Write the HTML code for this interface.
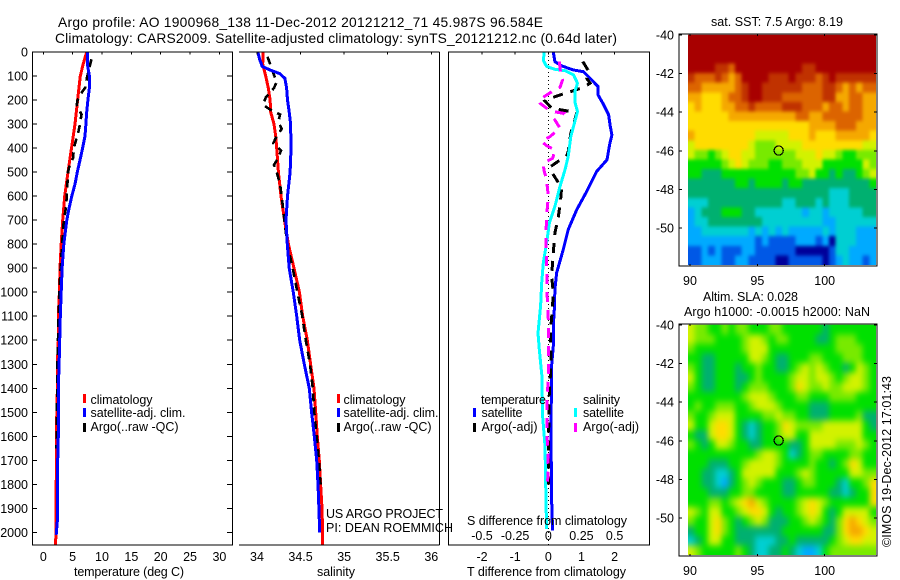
<!DOCTYPE html>
<html lang="en">
<head>
<meta charset="utf-8">
<title>Argo profile</title>
<style>
html,body{margin:0;padding:0;background:#fff;}
svg{display:block;}
text{font-family:"Liberation Sans",sans-serif;font-size:12.5px;fill:#000;}
.t{font-size:13.8px;}
</style>
</head>
<body>
<svg id="chart" xmlns="http://www.w3.org/2000/svg" width="900" height="580" viewBox="0 0 900 580" shape-rendering="crispEdges">
<defs>
<filter id="softSst" filterUnits="userSpaceOnUse" x="668" y="14" width="228" height="272" color-interpolation-filters="sRGB">
<feGaussianBlur stdDeviation="1.6 1.9"/>
<feComponentTransfer><feFuncA type="linear" slope="4" intercept="0"/></feComponentTransfer>
</filter>
<filter id="softSla" filterUnits="userSpaceOnUse" x="668" y="304" width="228" height="272" color-interpolation-filters="sRGB">
<feGaussianBlur stdDeviation="3 3.4"/>
<feComponentTransfer><feFuncA type="linear" slope="4" intercept="0"/></feComponentTransfer>
</filter>
<clipPath id="clipSst"><rect x="688" y="34.7" width="188" height="230.3"/></clipPath>
<clipPath id="clipSla"><rect x="688" y="324.7" width="188" height="230.3"/></clipPath>
</defs>
<rect x="0" y="0" width="900" height="580" fill="#fff"/>
<g id="layer"></g>
<g>
<text class="t" x="58" y="27" textLength="485">Argo profile: AO 1900968_138 11-Dec-2012 20121212_71 45.987S 96.584E</text>
<text class="t" x="55" y="43" textLength="562">Climatology: CARS2009. Satellite-adjusted climatology: synTS_20121212.nc (0.64d later)</text>
<text x="711" y="26" textLength="132">sat. SST: 7.5 Argo: 8.19</text>
<text x="703" y="301" textLength="95">Altim. SLA: 0.028</text>
<text x="684" y="316" textLength="186">Argo h1000: -0.0015 h2000: NaN</text>
<text transform="translate(891 547) rotate(-90)" x="0" y="0" textLength="171">©IMOS 19-Dec-2012 17:01:43</text>
</g>
<g>
<text x="74" y="576" textLength="110">temperature (deg C)</text>
<text x="317" y="576" textLength="38">salinity</text>
<text x="467" y="576" textLength="159">T difference from climatology</text>
<text x="467" y="525" textLength="160">S difference from climatology</text>
</g>
<g>
<rect x="83" y="394" width="3" height="9" fill="#f00"/>
<rect x="83" y="408" width="3" height="9" fill="#00f"/>
<rect x="83" y="423" width="3" height="9" fill="#000"/>
<text x="90.5" y="404" textLength="62">climatology</text>
<text x="90.5" y="417" textLength="95">satellite-adj. clim.</text>
<text x="90.5" y="431" textLength="88">Argo(..raw -QC)</text>
</g>
<g>
<rect x="337" y="394" width="3" height="9" fill="#f00"/>
<rect x="337" y="408" width="3" height="9" fill="#00f"/>
<rect x="337" y="423" width="3" height="9" fill="#000"/>
<text x="343.5" y="404" textLength="62">climatology</text>
<text x="343.5" y="417" textLength="95">satellite-adj. clim.</text>
<text x="343.5" y="431" textLength="88">Argo(..raw -QC)</text>
</g>
<g>
<text x="481" y="404" textLength="65">temperature</text>
<text x="583" y="404" textLength="37">salinity</text>
<rect x="473" y="408" width="3" height="9" fill="#00f"/>
<rect x="473" y="423" width="3" height="9" fill="#000"/>
<rect x="574" y="408" width="3" height="9" fill="#0ff"/>
<rect x="574" y="423" width="3" height="9" fill="#f0f"/>
<text x="481.5" y="417" textLength="41">satellite</text>
<text x="481.5" y="431" textLength="56">Argo(-adj)</text>
<text x="583" y="417" textLength="41">satellite</text>
<text x="583" y="431" textLength="56">Argo(-adj)</text>
</g>
<g>
<text x="326" y="518" textLength="117">US ARGO PROJECT</text>
<text x="326" y="532" textLength="127">PI: DEAN ROEMMICH</text>
</g>
</svg>
<script>
// ---- shared axis data ----
const depthTicks = [0,100,200,300,400,500,600,700,800,900,1000,1100,1200,1300,1400,1500,1600,1700,1800,1900,2000];
const tempTicks = [0,5,10,15,20,25,30];
const salTicks = [34,34.5,35,35.5,36];
const salTickLabels = ['34','34.5','35','35.5','36'];
const tDiffTicks = [-2,-1,0,1,2];
const sDiffTicks = [-0.5,-0.25,0,0.25,0.5];
const latTicks = [-40,-42,-44,-46,-48,-50];
const lonTicks = [90,95,100];
const argoLon = [96.584];
const argoLat = [-45.987];

// ---- temperature panel ----
const tempClimDepth = [0,50,100,200,300,400,500,600,700,800,900,1000,1100,1200,1300,1400,1500,1600,1700,1800,1900,2000,2055];
const tempClimValues = [7.4,6.8,6.3,5.85,5.4,4.8,4.2,3.65,3.3,3.05,2.85,2.75,2.55,2.55,2.4,2.4,2.3,2.25,2.25,2.2,2.15,2.15,2.1];
const tempSatDepth = [0,50,100,150,200,250,300,350,400,450,500,550,600,650,700,800,900,1000,1100,1200,1300,1400,1500,1600,1700,1800,1900,1950,2010];
const tempSatValues = [7.5,7.5,7.85,7.85,7.6,7.4,7.25,7.1,6.7,6.25,5.8,5.4,4.85,4.4,4.0,3.5,3.2,3.05,2.9,2.8,2.7,2.55,2.55,2.55,2.45,2.45,2.4,2.4,2.2];
const tempArgoDepth = [30,50,100,150,170,200,220,260,300,330,400,440,480,500,600,650,700,800,900,1000,1100,1300,1550,1650];
const tempArgoValues = [8.2,8.0,7.5,7.1,6.5,5.85,5.7,6.5,6.25,6.0,5.2,5.1,4.4,4.2,4.0,3.85,3.5,3.2,2.95,2.75,2.6,2.4,2.3,2.25];

// ---- salinity panel ----
const salClimDepth = [0,50,100,150,200,250,300,350,400,500,600,700,800,900,1000,1100,1200,1300,1400,1500,1600,1700,1800,1900,2000,2055];
const salClimValues = [34.07,34.065,34.1,34.13,34.15,34.157,34.195,34.214,34.226,34.245,34.275,34.315,34.36,34.425,34.486,34.524,34.577,34.615,34.654,34.673,34.692,34.715,34.73,34.746,34.753,34.753];
const salSatDepth = [0,30,60,75,90,110,150,200,250,300,400,450,500,600,700,800,900,1000,1100,1200,1300,1400,1500,1600,1700,1800,1900,2000];
const salSatValues = [34.01,34.03,34.06,34.15,34.26,34.32,34.34,34.35,34.37,34.386,34.39,34.386,34.38,34.35,34.333,34.348,34.37,34.417,34.455,34.49,34.543,34.6,34.627,34.658,34.685,34.7,34.71,34.72];
const salArgoDepth = [20,50,100,125,150,190,220,240,260,290,320,350,380,410,440,470,500,550,600,700,800,900,1000,1100,1200,1300,1400,1500,1600,1700,1800];
const salArgoValues = [34.12,34.15,34.2,34.225,34.195,34.1,34.07,34.15,34.264,34.245,34.283,34.225,34.187,34.275,34.245,34.195,34.226,34.264,34.283,34.314,34.348,34.41,34.463,34.52,34.56,34.608,34.64,34.658,34.685,34.71,34.73];

// ---- difference panel ----
const dTSatDepth = [0,40,58,75,82,116,144,178,220,261,310,345,386,449,497,580,656,740,823,920,989,1072,1139,1224,1307,1585,1862,1993];
const dTSatValues = [0.15,0.2,0.4,0.76,1.06,1.31,1.5,1.5,1.67,1.82,1.87,1.92,1.85,1.77,1.46,1.16,0.86,0.6,0.45,0.25,0.2,0.18,0.15,0.15,0.1,0.08,0.1,0.13];
const dSSatDepth = [0,35,60,72,78,95,130,165,206,248,310,352,435,490,560,643,712,795,878,961,1058,1170,1238,1349,1515,1640,1848,1986];
const dSSatValues = [-0.03,-0.038,-0.013,0.05,0.126,0.19,0.22,0.2,0.2,0.22,0.19,0.17,0.15,0.126,0.088,0.05,0.008,-0.013,-0.038,-0.05,-0.058,-0.078,-0.068,-0.048,-0.043,-0.025,-0.018,-0.013];
const dTArgoDepth = [40,78,110,130,147,168,186,204,234,245,252,283,338,414,435,455,476,504,532,566,615,691,753,836,933,1003,1072,1156,1300,1446,1640,1800];
const dTArgoValues = [1.04,1.21,1.16,1.26,1.06,0.6,0.2,-0.1,0.1,0.55,0.86,0.8,0.68,0.6,0.55,0.3,0.08,0.12,0.25,0.4,0.37,0.3,0.2,0.15,0.1,0.15,0.12,0.07,0.08,0.02,0.01,0];
const dSArgoDepth = [40,60,95,116,147,168,200,213,234,248,255,283,317,352,372,390,407,442,463,491,532,601,684,767,878,1017,1114,1307,1446,1515,1612,1723,1792];
const dSArgoValues = [0.083,0.088,0.093,0.108,0.088,0.018,-0.07,-0.063,-0.013,0.038,0.114,0.05,0.088,0.013,-0.05,-0.013,0.05,0.033,-0.038,-0.033,-0.013,0,-0.013,-0.018,-0.013,-0.008,0,0.003,-0.008,-0.008,-0.008,0,-0.005];

// ---- map grids: rows north to south, colour level per cell ----
const levelColors = ['#00009a','#0058e6','#00aaff','#00cfd2','#00b070','#00e000','#78ea00','#d2f200','#ffdc00','#f5a800','#dc6400','#c03200','#a80000'];
const sstGrid = [
[12,12,12,12,12,12,12,12,12,12,12,12,12,12,12,12,12,12,12,12,12,12,12,12,12,12,12,12],
[12,12,12,12,12,12,12,12,12,12,12,12,12,12,12,12,12,12,12,12,12,12,12,12,12,12,12,12],
[12,12,12,12,12,12,12,12,12,12,12,12,12,12,12,12,12,12,12,12,12,12,12,12,12,12,12,12],
[12,12,12,12,11,11,10,12,12,12,12,12,12,12,12,12,12,11,11,12,12,12,12,12,12,12,12,12],
[11,10,10,10,11,10,9,10,12,12,12,12,11,11,11,12,11,11,11,10,11,12,11,11,11,11,11,11],
[10,10,9,9,9,9,9,10,11,12,12,11,11,11,11,11,11,10,10,10,11,11,10,9,10,9,10,10],
[9,9,8,8,8,9,10,10,11,12,12,11,11,11,10,10,10,10,10,10,11,11,9,9,10,10,9,9],
[8,9,8,8,8,9,9,10,10,11,10,10,10,10,11,11,11,10,10,10,9,10,10,9,10,10,9,9],
[8,8,8,8,8,8,9,9,9,9,9,9,9,9,9,9,10,10,9,9,10,10,10,10,10,10,9,9],
[8,8,8,8,8,8,8,8,8,8,8,8,8,8,8,8,8,8,9,9,9,9,10,10,10,9,9,9],
[9,8,8,8,8,8,8,8,8,8,7,7,7,7,7,8,8,8,9,8,8,8,9,9,9,9,9,8],
[7,8,8,8,8,8,8,8,8,7,6,6,6,7,7,7,7,8,8,8,8,8,8,8,8,8,7,7],
[7,6,6,5,6,7,8,8,7,7,6,6,6,6,6,6,7,7,7,8,7,7,6,5,5,6,6,6],
[5,5,5,5,5,6,7,8,7,6,6,6,5,5,6,6,6,7,7,7,5,5,5,5,5,5,7,6],
[5,5,4,4,4,5,5,5,5,5,5,5,5,5,5,5,6,6,7,5,5,4,5,4,4,5,6,7],
[4,4,4,4,4,4,4,5,5,4,5,5,5,5,4,5,5,4,4,4,4,4,4,4,4,4,4,5],
[4,4,4,4,4,4,4,4,4,4,4,4,4,4,4,4,4,4,4,4,4,3,3,3,4,4,4,4],
[3,3,3,4,4,4,4,4,4,4,4,4,4,4,3,3,4,4,4,3,4,3,3,3,4,4,4,4],
[2,3,4,4,4,5,5,5,4,4,3,3,3,3,3,3,3,2,3,3,2,3,3,3,3,3,4,4],
[2,3,3,4,4,4,4,4,4,4,4,3,3,3,3,3,3,3,3,3,2,2,3,3,3,3,3,3],
[2,2,3,3,3,3,3,3,3,2,3,2,3,2,3,2,2,2,2,2,3,2,3,3,3,2,2,2],
[2,2,2,2,2,2,2,2,2,2,1,2,1,1,1,1,2,2,2,1,2,0,3,3,3,2,2,2],
[1,1,2,1,2,1,1,1,2,2,1,1,1,1,1,1,0,0,0,0,0,1,3,3,2,2,2,2],
[1,1,2,2,2,1,1,2,2,1,1,1,1,0,0,1,1,1,1,1,0,1,2,3,2,2,1,2]
];
const slaGrid = [
[7,6,6,5,5,6,5,6,6,5,5,5,6,6,5,5,5,5,5,5,4,5,5,5,5,5,5,5],
[7,6,6,6,5,5,5,5,6,7,7,6,5,6,6,5,5,5,5,4,4,5,6,6,6,5,5,5],
[6,5,5,5,5,5,5,5,6,7,7,7,5,5,5,5,5,5,5,5,5,5,6,6,6,6,5,5],
[5,5,4,4,5,5,5,5,5,7,7,6,5,4,4,5,5,5,6,6,5,5,5,6,6,6,5,5],
[6,5,4,4,5,5,5,4,5,5,6,5,5,4,4,5,6,7,6,7,6,5,5,4,5,7,6,5],
[7,5,4,4,5,5,5,4,4,5,6,5,5,5,5,6,7,7,6,7,7,6,5,6,7,7,6,5],
[6,5,4,4,5,5,5,4,5,6,6,6,5,5,5,6,8,7,6,6,7,6,6,7,7,7,6,5],
[5,5,5,5,5,5,5,5,6,7,7,7,6,5,5,5,6,6,5,5,5,6,6,6,6,5,5,5],
[5,6,5,5,6,6,6,5,5,6,7,7,7,6,5,5,5,5,4,4,4,5,5,5,5,5,5,5],
[6,5,5,6,7,7,7,5,5,5,5,6,6,7,6,6,5,5,4,4,4,5,5,5,5,6,4,4],
[7,5,5,7,8,8,7,5,4,3,4,5,5,6,8,7,6,6,6,6,7,7,7,7,7,7,5,4],
[5,4,4,7,8,8,7,5,4,3,4,5,5,6,7,7,5,5,7,7,7,7,7,7,7,7,5,5],
[6,5,4,5,7,7,6,5,5,4,4,5,5,5,5,4,4,5,7,7,7,7,6,6,6,7,6,5],
[5,5,5,5,5,5,5,5,5,5,6,7,7,6,5,3,4,5,6,6,5,5,5,5,6,6,5,5],
[5,5,5,4,4,4,5,5,6,7,7,7,7,6,5,5,5,5,6,5,5,4,5,6,8,7,5,5],
[5,5,4,4,3,3,4,5,7,7,7,7,7,5,5,5,6,7,6,5,5,5,5,5,7,7,6,6],
[5,5,4,4,3,2,4,5,6,7,6,5,5,5,4,4,5,6,6,5,5,5,4,3,5,5,6,8],
[5,5,5,4,4,4,5,5,6,6,5,5,5,5,4,4,5,5,5,5,5,4,4,3,4,5,5,8],
[5,5,5,6,6,5,6,7,8,9,7,6,5,5,5,5,6,7,8,7,6,5,5,5,5,5,5,8],
[7,6,5,7,7,5,5,6,7,8,8,7,5,4,5,5,6,7,8,7,5,4,5,7,7,7,7,5],
[6,5,5,7,8,6,5,4,5,6,7,6,4,4,4,5,5,6,7,6,5,4,6,8,9,8,7,6],
[4,5,5,7,8,6,5,4,4,4,4,4,4,4,5,5,5,5,5,5,4,4,6,8,9,9,8,7],
[3,4,5,7,7,5,5,4,4,4,3,3,3,4,4,5,4,4,4,4,4,5,6,7,8,8,7,7],
[7,6,5,5,5,5,5,6,5,4,3,3,4,4,5,4,3,2,2,3,5,6,6,6,6,6,6,6]
];

// ---- layout constants and axis functions ----
const SVGNS = 'http://www.w3.org/2000/svg';
const layer = document.getElementById('layer');
const plotTop = 52, plotBottom = 545;
function depthY(d){ return 52 + d * 0.2402; }
function tempX(v){ return 43.3 + v * 5.87; }
function salX(v){ return 257 + (v - 34) * 87.15; }
function dTX(v){ return 548.3 + v * 33.15; }
function dSX(v){ return 548.3 + v * 132.6; }
function lonX(v){ return 690 + (v - 90) * 13.47; }
function sstLatY(v){ return 35 + (-40 - v) * 19.3; }
function slaLatY(v){ return 325 + (-40 - v) * 19.3; }

function add(tag, attrs, parent){
  const el = document.createElementNS(SVGNS, tag);
  for (const k in attrs) el.setAttribute(k, attrs[k]);
  (parent || layer).appendChild(el);
  return el;
}
function seg(x1, y1, x2, y2, w){
  return add('line', {x1:x1, y1:y1, x2:x2, y2:y2, stroke:'#000', 'stroke-width':w || 1});
}
function label(str, x, y, anchor){
  const t = add('text', {x:x, y:y, 'text-anchor':anchor || 'middle'});
  t.textContent = str;
  return t;
}
function profile(xFn, depths, values, color, width, dash, offset){
  const pts = depths.map((d, i) => xFn(values[i]).toFixed(1) + ',' + depthY(d).toFixed(1)).join(' ');
  const attrs = {points:pts, fill:'none', stroke:color, 'stroke-width':width};
  if (dash) attrs['stroke-dasharray'] = dash;
  if (offset) attrs['stroke-dashoffset'] = offset;
  return add('polyline', attrs);
}

// ---- heatmaps ----
function drawGrid(grid, top, bottom, name, clipId, filterId){
  const left = 688, right = 876;
  const rows = grid.length;
  const clipGroup = add('g', {'clip-path':'url(#' + clipId + ')'});
  
  
  const inner = add('g', {filter:'url(#' + filterId + ')'}, clipGroup);
  grid.forEach((row, r) => {
    const cols = row.length;
    row.forEach((level, c) => {
      const x0 = left + (right - left) * c / cols;
      const x1 = left + (right - left) * (c + 1) / cols;
      const y0 = top + (bottom - top) * r / rows;
      const y1 = top + (bottom - top) * (r + 1) / rows;
      const cell = add('rect', {x:x0, y:y0, width:x1 - x0 + 0.5, height:y1 - y0 + 0.5, fill:levelColors[level]}, inner);
      
      
    });
  });
}
function drawMapAxes(latFn, boxTop, boxBottom, labelY, name){
  const box = add('rect', {x:679, y:boxTop, width:198, height:boxBottom - boxTop, fill:'none', stroke:'#000', 'stroke-width':1});
  
  
  latTicks.forEach(v => {
    const y = latFn(v);
    const l = seg(679, y, 682, y);
    
    
    const r = seg(874, y, 877, y);
    
    
    const t = label(String(v), 674, y + 4.5, 'end');
    
    
  });
  lonTicks.forEach(v => {
    const x = lonX(v);
    const a = seg(x, boxTop, x, boxTop + 2);
    
    
    const b = seg(x, boxBottom - 2, x, boxBottom);
    
    
    const t = label(String(v), x, labelY);
    
    
  });
  const m = add('circle', {cx:lonX(argoLon[0]), cy:latFn(argoLat[0]), r:4.6, fill:'none', stroke:'#000', 'stroke-width':1.2});
  
  
}
drawGrid(sstGrid, 34.7, 265, 'sst', 'clipSst', 'softSst');
drawGrid(slaGrid, 324.7, 555, 'sla', 'clipSla', 'softSla');
drawMapAxes(sstLatY, 34, 266, 285, 'sst');
drawMapAxes(slaLatY, 324, 556, 575, 'sla');

// ---- series ----
let s;
s = profile(tempX, tempClimDepth, tempClimValues, '#f00', 3);


s = profile(tempX, tempArgoDepth, tempArgoValues, '#000', 2.6, '8 6');


s = profile(tempX, tempArgoDepth, tempArgoValues, '#000', 1, '3 11', 11);


s = profile(tempX, tempSatDepth, tempSatValues, '#00f', 3);



s = profile(salX, salClimDepth, salClimValues, '#f00', 3);


s = profile(salX, salArgoDepth, salArgoValues, '#000', 2.6, '8 6');


s = profile(salX, salArgoDepth, salArgoValues, '#000', 1, '3 11', 11);


s = profile(salX, salSatDepth, salSatValues, '#00f', 3);



const zeroLine = add('line', {x1:dTX(0), y1:plotTop, x2:dTX(0), y2:plotBottom, stroke:'#000', 'stroke-width':1, 'stroke-dasharray':'1 3'});


s = profile(dTX, dTSatDepth, dTSatValues, '#00f', 3);


s = profile(dTX, dTArgoDepth, dTArgoValues, '#000', 3, '10 8');


s = profile(dSX, dSSatDepth, dSSatValues, '#0ff', 3);


s = profile(dSX, dSArgoDepth, dSArgoValues, '#f0f', 3, '10 8');



// ---- panel frames ----
let f;
f = add('rect', {x:32.5, y:plotTop, width:200, height:plotBottom - plotTop, fill:'none', stroke:'#000', 'stroke-width':1});


f = seg(239, plotTop, 439.5, plotTop);


f = seg(239, plotBottom, 439.5, plotBottom);


f = seg(439.5, plotTop, 439.5, plotBottom);


f = add('rect', {x:448.5, y:plotTop, width:201, height:plotBottom - plotTop, fill:'none', stroke:'#000', 'stroke-width':1});



// ---- ticks and labels ----
depthTicks.forEach(d => {
  const y = depthY(d);
  const a = seg(32.5, y, 37, y);
  
  
  const b = seg(227, y, 232.5, y);
  
  
  const t = label(String(d), 28, y + 4.5, 'end');
  
  
});
tempTicks.forEach(v => {
  const x = tempX(v);
  const a = seg(x, plotTop, x, plotTop + 2.5);
  
  
  const t = label(String(v), x, 561);
  
  
});
salTicks.forEach((v, i) => {
  const x = salX(v);
  const a = seg(x, plotTop, x, plotTop + 2.5);
  
  
  const t = label(salTickLabels[i], x, 561);
  
  
});
tDiffTicks.forEach(v => {
  const x = dTX(v);
  const a = seg(x, plotTop, x, plotTop + 2.5);
  
  
  const t = label(String(v), x, 561);
  
  
});
sDiffTicks.forEach(v => {
  const t = label(String(v), dSX(v), 540);
  
  
});
// keep overlay text above the drawn marks
const svgRoot = document.getElementById('chart');
svgRoot.appendChild(layer);
Array.from(svgRoot.children).forEach(ch => {
  if (ch !== layer && ch.tagName === 'g') svgRoot.appendChild(ch);
});
</script>
</body>
</html>
